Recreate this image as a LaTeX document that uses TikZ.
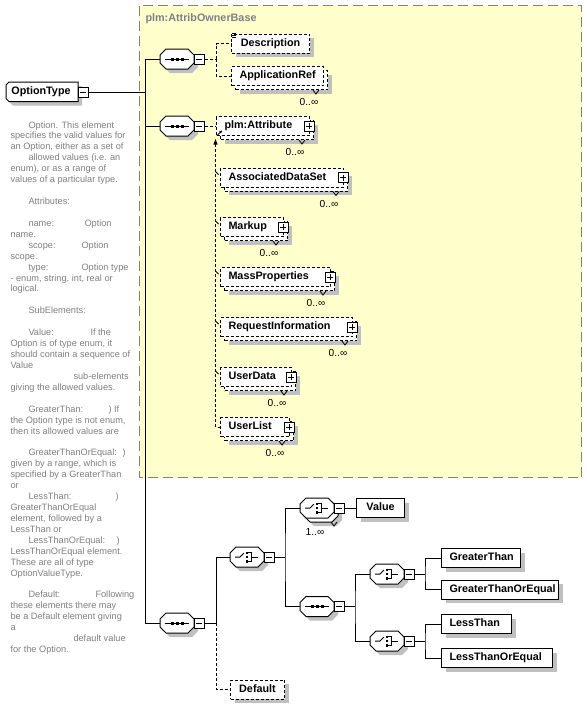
\documentclass[tikz,border=0pt]{standalone}
\usepackage{fontspec}
\setmainfont{Liberation Sans}
\usetikzlibrary{shadows,arrows.meta,calc}
\definecolor{grpfill}{RGB}{255,255,204}
\definecolor{grpline}{RGB}{128,128,128}
\definecolor{shad}{RGB}{192,192,192}
\definecolor{doctext}{RGB}{128,128,128}
\newcommand{\lblfont}{\fontsize{10.8}{13}\selectfont\bfseries}
\newcommand{\docfont}{\fontsize{9.2}{11}\selectfont}
\newcommand{\multfont}{\fontsize{10.2}{11}\selectfont}
\newcommand{\octo}[3][]{\path[#1] ({#2-17},{#3-4}) -- ({#2-11},{#3-10}) -- ({#2+11},{#3-10}) -- ({#2+17},{#3-4}) -- ({#2+17},{#3+4}) -- ({#2+11},{#3+10}) -- ({#2-11},{#3+10}) -- ({#2-17},{#3+4}) -- cycle;}
\newcommand{\symseq}[2]{%
  \draw ({#1-12},#2) -- ({#1+12},#2);
  \fill ({#1-6.5},{#2-1.5}) rectangle ++(3,3);
  \fill ({#1-1.5},{#2-1.5}) rectangle ++(3,3);
  \fill ({#1+3.5},{#2-1.5}) rectangle ++(3,3);}
\newcommand{\symcho}[2]{%
  \draw ({#1-12},#2) -- ({#1-7},#2) -- ({#1-3},{#2-4});
  \fill ({#1-1.5},{#2-5.5}) rectangle ++(2.6,2.6);
  \fill ({#1-1.5},{#2-1.3}) rectangle ++(2.6,2.6);
  \fill ({#1-1.5},{#2+2.9}) rectangle ++(2.6,2.6);
  \draw ({#1+1.1},{#2-4.2}) -- ({#1+4},{#2-4.2}) -- ({#1+4},{#2+4.2}) -- ({#1+1.1},{#2+4.2});
  \draw ({#1+4},#2) -- ({#1+11},#2);}
\newcommand{\minusafter}[3]{%
  \node[mbox] (#1m) at ({#2+22},#3) {};
  \draw ({#2+19},#3) -- ({#2+25},#3);}
\newcommand{\compo}[4]{%
  \octo[fill=shad]{#2+4}{#3+4}
  \octo[draw=black,fill=white]{#2}{#3}
  \node[cnode] (#1) at (#2,#3) {};
  \csname sym#4\endcsname{#2}{#3}
  \minusafter{#1}{#2}{#3}}
\newcommand{\plusmark}[1]{%
  \node[mbox] (#1p) at ($(#1.east)+(-1,0)$) {};
  \draw ($(#1p.center)+(-3,0)$) -- ++(6,0) ($(#1p.center)+(0,-3)$) -- ++(0,6);}
\newcommand{\multlab}[2]{%
  \node[mult] (#1l) at ($(#1.south east)+(-15,16)$) {#2};
  \draw[line width=0.8pt] ($(#1.south east)+(-11,4)$) -- ++(3,4) -- ++(3,-4);}
\newcommand{\dl}[3]{\node[doc] (d#1x#2) at (#2,{128+10.93*#1}) {#3};}
\begin{document}
\begin{tikzpicture}[x=1pt,y=-1pt,line width=1pt,
  dsh/.style={dash pattern=on 3pt off 2pt},
  shd/.style={general shadow={shadow xshift=4pt,shadow yshift=-4pt,fill=shad}},
  mshd/.style={general shadow={shadow xshift=8pt,shadow yshift=-8pt,fill=shad},
               general shadow={shadow xshift=4pt,shadow yshift=-4pt,fill=white,draw=black,dash pattern=on 3pt off 2pt}},
  elem/.style={draw=black,fill=white,minimum height=19pt,inner xsep=8pt,inner ysep=0pt,
               text height=8pt,text depth=2.5pt,font=\lblfont,anchor=west},
  optelem/.style={elem,dsh,shd,align=center},
  multelem/.style={elem,dsh,mshd,align=left},
  reqelem/.style={elem,shd,align=left},
  cnode/.style={minimum width=34pt,minimum height=20pt,inner sep=0pt},
  mbox/.style={draw=black,fill=white,minimum size=10pt,inner sep=0pt,line width=1pt},
  mult/.style={font=\multfont,inner sep=0pt},
  doc/.style={font=\docfont,text=doctext,anchor=base west,inner sep=0pt},
  title/.style={font=\lblfont,text=grpline,anchor=west,inner sep=0pt}]
\useasboundingbox (0,0) rectangle (587,705);
\fill[white] (0,0) rectangle (587,705);
% group
\draw[grpline,line width=1.5pt,dash pattern=on 10pt off 5pt,fill=grpfill] (139.5,5.5) rectangle (581.5,477.5);
\node[title] (grptitle) at (145,19) {plm:AttribOwnerBase};
% OptionType
\fill[shad] (13,86) -- (82,86) -- (82,105.5) -- (13,105.5) -- (10,102.5) -- (10,89) -- cycle;
\draw[fill=white] (9,82) -- (78,82) -- (78,101.5) -- (9,101.5) -- (6,98.5) -- (6,85) -- cycle;
\node[font=\lblfont,inner sep=0pt] (ot) at (41,92) {OptionType};
\node[mbox] (otm) at (83,92) {};
\draw (80,92) -- (86,92);
% compositors
\compo{s1}{177}{59}{seq}
\compo{s2}{177}{126}{seq}
\compo{s3}{177}{623}{seq}
\compo{c1}{247}{557}{cho}
\octo[fill=shad]{325}{516}
\octo[draw=black,fill=white]{321}{512}
\octo[draw=black,fill=white]{317}{508}
\node[cnode] (c2) at (317,508) {};
\symcho{317}{508}
\minusafter{c2}{317}{508}
\draw[line width=0.8pt] (331,522) -- (334,526) -- (337,522);
\node[mult] (c2l) at (315,532) {1..∞};
\compo{s4}{317}{606.5}{seq}
\compo{c3}{387}{574}{cho}
\compo{c4}{387}{641}{cho}
% elements in group
\node[optelem,text width=62pt] (desc) at (231,43.5) {Description};
\draw[line width=0.6pt] (232,33.5) -- (236,33.5) (232,35.5) -- (236,35.5) (232,37.5) -- (236,37.5);
\node[multelem,text width=76pt] (appref) at (231,76) {ApplicationRef};
\multlab{appref}{0..∞}
\node[multelem,text width=77pt] (attr) at (216,126) {plm:Attribute};
\plusmark{attr}\multlab{attr}{0..∞}
\node[multelem,text width=107pt] (ads) at (220,177.5) {AssociatedDataSet};
\plusmark{ads}\multlab{ads}{0..∞}
\node[multelem,text width=47pt] (markup) at (220,227) {Markup};
\plusmark{markup}\multlab{markup}{0..∞}
\node[multelem,text width=94pt] (mass) at (220,277) {MassProperties};
\plusmark{mass}\multlab{mass}{0..∞}
\node[multelem,text width=116pt] (req) at (220,327) {RequestInformation};
\plusmark{req}\multlab{req}{0..∞}
\node[multelem,text width=55pt] (udata) at (220,377) {UserData};
\plusmark{udata}\multlab{udata}{0..∞}
\node[multelem,text width=53pt] (ulist) at (220,427) {UserList};
\plusmark{ulist}\multlab{ulist}{0..∞}
% lower elements
\node[reqelem,text width=32pt,align=center] (value) at (356,508) {Value};
\node[reqelem,text width=63pt] (gt) at (441,558) {GreaterThan};
\node[reqelem,text width=101pt] (gte) at (441,589.5) {GreaterThanOrEqual};
\node[reqelem,text width=54pt] (lt) at (441,624) {LessThan};
\node[reqelem,text width=95pt] (lte) at (441,658) {LessThanOrEqual};
\node[optelem,text width=38pt] (default) at (230,689.5) {Default};
% trunk
\coordinate (t0) at (145.5,92);
\coordinate (t1) at (145.5,59);
\coordinate (t2) at (145.5,126);
\coordinate (t3) at (145.5,623);
\draw (otm.east) -- (t0);
\draw (s1.west) -- (t1) -- (t3) -- (s3.west);
\draw (s2.west) -- (t2);
% group connectors
\coordinate (b1) at (216,59);
\draw[dsh] (s1m.east) -- (b1);
\draw[dsh] (b1) |- (desc.west);
\draw[dsh] (b1) |- (appref.west);
\draw[dsh] (s2m.east) -- (attr.west);
% substitution group
\coordinate (subtop) at (215.5,144);
\draw[dsh] (subtop) |- (ulist.west);
\fill (213.3,144.5) -- (215.5,139) -- (217.7,144.5) -- cycle;
\draw[line width=0.8pt,-{Stealth[length=3pt,width=3pt]}] (217,135.5) -- (222,130.5);
\foreach \yy in {168.5,218,268,318,368}{\draw[line width=0.8pt] (215.5,\yy+3) -- (218.5,\yy+6);}
% lower connectors
\coordinate (j3) at (216,623);
\draw (s3m.east) -- (j3) |- (c1.west);
\draw[dsh] (j3) |- (default.west);
\coordinate (j4) at (285,557);
\draw (c1m.east) -- (j4);
\draw (c2.west) -| (j4) |- (s4.west);
\draw (c2m.east) -- (value.west);
\coordinate (j5) at (355,606.5);
\draw (s4m.east) -- (j5);
\draw (c3.west) -| (j5) |- (c4.west);
\coordinate (j6) at (425,574);
\draw (c3m.east) -- (j6);
\draw (gt.west) -| (j6) |- (gte.west);
\coordinate (j7) at (425,641);
\draw (c4m.east) -- (j7);
\draw (lt.west) -| (j7) |- (lte.west);
% documentation text
\dl{0}{28}{Option. This element}
\dl{1}{10}{specifies the valid values for}
\dl{2}{10}{an Option, either as a set of}
\dl{3}{28}{allowed values (i.e. an}
\dl{4}{10}{enum), or as a range of}
\dl{5}{10}{values of a particular type.}
\dl{7}{28}{Attributes:}
\dl{9}{28}{name:}\dl{9}{84}{Option}
\dl{10}{10}{name.}
\dl{11}{28}{scope:}\dl{11}{81}{Option}
\dl{12}{10}{scope.}
\dl{13}{28}{type:}\dl{13}{81}{Option type}
\dl{14}{10}{- enum, string, int, real or}
\dl{15}{10}{logical.}
\dl{17}{28}{SubElements:}
\dl{19}{28}{Value:}\dl{19}{90}{If the}
\dl{20}{10}{Option is of type enum, it}
\dl{21}{10}{should contain a sequence of}
\dl{22}{10}{Value}
\dl{23}{73}{sub-elements}
\dl{24}{10}{giving the allowed values.}
\dl{26}{28}{GreaterThan:}\dl{26}{108}{) If}
\dl{27}{10}{the Option type is not enum,}
\dl{28}{10}{then its allowed values are}
\dl{30}{28}{GreaterThanOrEqual:}\dl{30}{122}{)}
\dl{31}{10}{given by a range, which is}
\dl{32}{10}{specified by a GreaterThan}
\dl{33}{10}{or}
\dl{34}{28}{LessThan:}\dl{34}{115}{)}
\dl{35}{10}{GreaterThanOrEqual}
\dl{36}{10}{element, followed by a}
\dl{37}{10}{LessThan or}
\dl{38}{28}{LessThanOrEqual:}\dl{38}{116}{)}
\dl{39}{10}{LessThanOrEqual element.}
\dl{40}{10}{These are all of type}
\dl{41}{10}{OptionValueType.}
\dl{43}{28}{Default:}\dl{43}{95}{Following}
\dl{44}{10}{these elements there may}
\dl{45}{10}{be a Default element giving}
\dl{46}{10}{a}
\dl{47}{73}{default value}
\dl{48}{10}{for the Option.}
\end{tikzpicture}
\end{document}
